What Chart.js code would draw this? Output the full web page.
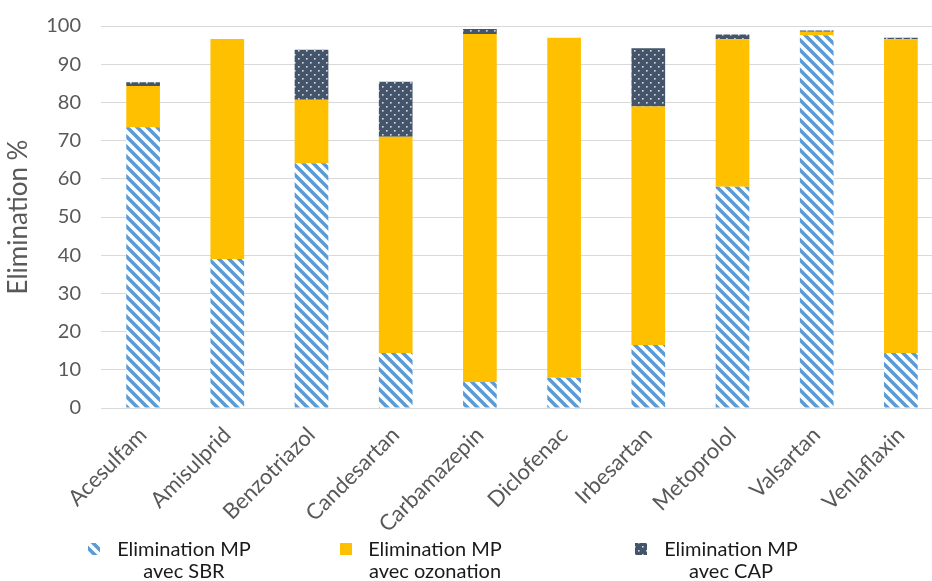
<!DOCTYPE html>
<html>
<head>
<meta charset="utf-8">
<script src="https://cdn.jsdelivr.net/npm/chart.js@4.4.1/dist/chart.umd.min.js"></script>
<style>
  html, body { margin: 0; padding: 0; background: #fff; overflow: hidden; }
  #wrap { width: 945px; height: 581px; }
</style>
</head>
<body>
<div id="wrap"><canvas id="chart"></canvas></div>
<script>
// données
var categories = ['Acesulfam', 'Amisulprid', 'Benzotriazol', 'Candesartan', 'Carbamazepin',
                  'Diclofenac', 'Irbesartan', 'Metoprolol', 'Valsartan', 'Venlaflaxin'];
var sbr       = [73.5, 39.0, 64.1, 14.4, 6.8, 7.9, 16.5, 57.9, 97.6, 14.4];
var ozonation = [10.8, 57.6, 16.6, 56.6, 91.1, 89.0, 62.4, 38.6, 0.9, 82.1];
var cap       = [1.0, 0.0, 13.1, 14.4, 1.3, 0.0, 15.3, 1.3, 0.3, 0.4];
var yTicks    = [0, 10, 20, 30, 40, 50, 60, 70, 80, 90, 100];
var legendLabels = [['Elimination MP', 'avec SBR'], ['Elimination MP', 'avec ozonation'], ['Elimination MP', 'avec CAP']];

var FONT = 'Lato, "Open Sans", sans-serif';

// motif hachuré (bleu / blanc)
function hatchPattern() {
    var c = document.createElement('canvas');
    c.width = 10; c.height = 10;
    var g = c.getContext('2d');
    g.fillStyle = '#ffffff';
    g.fillRect(0, 0, 10, 10);
    g.strokeStyle = '#5B9BD5';
    g.lineWidth = 3.6;
    g.beginPath();
    g.moveTo(-5, -5); g.lineTo(15, 15);
    g.moveTo(-5, 5); g.lineTo(5, 15);
    g.moveTo(5, -5); g.lineTo(15, 5);
    g.stroke();
    return g.createPattern(c, 'repeat');
}

// motif pointillé (bleu marine / points blancs)
function dotPattern() {
    var c = document.createElement('canvas');
    c.width = 8; c.height = 8;
    var g = c.getContext('2d');
    g.fillStyle = '#44546A';
    g.fillRect(0, 0, 8, 8);
    g.fillStyle = '#d8dce3';
    g.fillRect(2, 2, 1.6, 1.6);
    g.fillRect(6, 6, 1.6, 1.6);
    return g.createPattern(c, 'repeat');
}

var hatch = hatchPattern();
var dots = dotPattern();
var legendFills = [hatch, '#FFC000', dots];

// légende en bas, sur deux lignes
var bottomLegend = {
    id: 'bottomLegend',
    afterDraw: function (chart) {
        var ctx = chart.ctx;
        var items = [
            { box: 88, text: 184 },
            { box: 340, text: 435 },
            { box: 635, text: 731 }
        ];
        ctx.save();
        items.forEach(function (it, i) {
            ctx.fillStyle = legendFills[i];
            ctx.fillRect(it.box, 543, 12, 12);
            ctx.fillStyle = '#1a1a1a';
            ctx.font = '20px ' + FONT;
            ctx.textAlign = 'center';
            ctx.textBaseline = 'middle';
            ctx.fillText(legendLabels[i][0], it.text, 550);
            ctx.fillText(legendLabels[i][1], it.text, 572);
        });
        ctx.restore();
    }
};

var ctx = document.getElementById('chart').getContext('2d');

new Chart(ctx, {
    type: 'bar',
    data: {
        labels: categories,
        datasets: [{
            label: 'Elimination MP avec SBR',
            data: sbr,
            backgroundColor: hatch,
            borderWidth: 0
        }, {
            label: 'Elimination MP avec ozonation',
            data: ozonation,
            backgroundColor: '#FFC000',
            borderWidth: 0
        }, {
            label: 'Elimination MP avec CAP',
            data: cap,
            backgroundColor: dots,
            borderWidth: 0
        }]
    },
    options: {
        responsive: true,
        maintainAspectRatio: false,
        animation: false,
        layout: {
            padding: { top: 26, right: 2, left: 0, bottom: 0 }
        },
        datasets: {
            bar: { barPercentage: 0.8, categoryPercentage: 0.5 }
        },
        plugins: {
            legend: { display: false },
            tooltip: { enabled: false }
        },
        scales: {
            x: {
                stacked: true,
                grid: { display: false },
                border: { display: false },
                ticks: {
                    color: '#595959',
                    font: { family: FONT, size: 22 },
                    minRotation: 45,
                    maxRotation: 45,
                    padding: 6
                },
                afterFit: function (scale) { scale.height = 173; }
            },
            y: {
                stacked: true,
                min: 0,
                max: 100,
                afterBuildTicks: function (scale) {
                    scale.ticks = yTicks.map(function (v) { return { value: v }; });
                },
                grid: { color: '#d9d9d9', lineWidth: 1, drawTicks: false },
                border: { display: false },
                ticks: {
                    color: '#595959',
                    font: { family: FONT, size: 20 },
                    padding: 20
                },
                title: {
                    display: true,
                    text: 'Elimination %',
                    color: '#595959',
                    font: { family: FONT, size: 26 },
                    padding: { top: 3, bottom: 0 }
                },
                afterFit: function (scale) {
                    scale.width = 101;
                    // le padding des ticks ne doit pas décaler le haut du graphique
                    scale.paddingTop = 0;
                    scale.paddingBottom = 0;
                }
            }
        }
    },
    plugins: [bottomLegend]
});
</script>
</body>
</html>
